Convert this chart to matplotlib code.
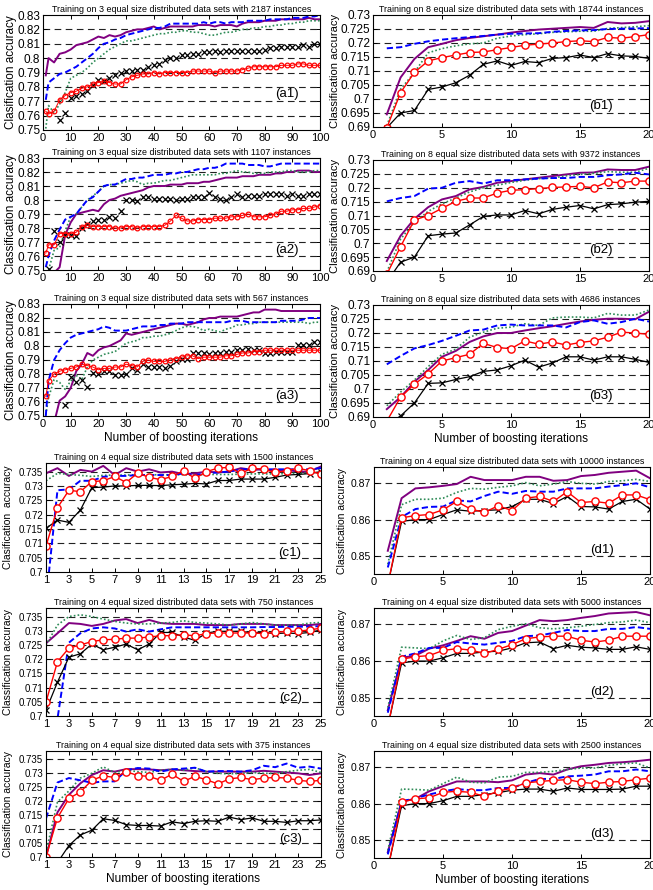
import numpy as np
import matplotlib
matplotlib.use("Agg")
import matplotlib.pyplot as plt

plt.rcParams["font.family"] = ["Liberation Sans", "DejaVu Sans"]

nan = np.nan

# boosting iterations on the x axis
ITER_A = [1] + list(range(2, 101, 2))
ITER_B = list(range(1, 21))
ITER_C = list(range(1, 26))
ITER_D = list(range(1, 21))

# ---- 3 distributed data sets, 100 iterations ----
a1_purple = [0.788, 0.800, 0.797, 0.803, 0.804, 0.806, 0.809, 0.810, 0.811, 0.813, 0.815, 0.814, 0.816,
             0.815, 0.816, 0.818, 0.819, 0.820, 0.820, 0.821, 0.822, 0.820, 0.821, 0.822, 0.822, 0.822,
             0.822, 0.822, 0.823, 0.823, 0.823, 0.822, 0.823, 0.823, 0.823, 0.822, 0.824, 0.825, 0.825,
             0.825, 0.826, 0.826, 0.826, 0.827, 0.827, 0.827, 0.827, 0.827, 0.828, 0.827, 0.827]
a1_blue = [0.771, 0.783, 0.786, 0.789, 0.790, 0.792, 0.794, 0.797, 0.800, 0.803, 0.807, 0.810, 0.811,
           0.813, 0.814, 0.816, 0.817, 0.818, 0.819, 0.820, 0.821, 0.821, 0.822, 0.824, 0.824, 0.824,
           0.824, 0.824, 0.824, 0.825, 0.824, 0.825, 0.825, 0.824, 0.825, 0.825, 0.825, 0.826, 0.826,
           0.826, 0.826, 0.827, 0.827, 0.827, 0.827, 0.828, 0.828, 0.828, 0.829, 0.829, 0.830]
a1_green = [0.751, 0.767, 0.762, 0.768, 0.776, 0.786, 0.788, 0.790, 0.793, 0.797, 0.800, 0.803, 0.806,
            0.808, 0.810, 0.812, 0.812, 0.813, 0.814, 0.815, 0.816, 0.817, 0.817, 0.818, 0.818, 0.819,
            0.819, 0.818, 0.818, 0.817, 0.816, 0.816, 0.817, 0.818, 0.818, 0.819, 0.820, 0.820, 0.821,
            0.821, 0.822, 0.822, 0.823, 0.823, 0.824, 0.824, 0.825, 0.825, 0.826, 0.826, 0.826]
a1_red = [0.763, 0.761, 0.763, 0.771, 0.774, 0.776, 0.777, 0.779, 0.780, 0.782, 0.783, 0.784, 0.783,
          0.782, 0.782, 0.785, 0.787, 0.788, 0.789, 0.789, 0.790, 0.789, 0.790, 0.790, 0.790, 0.790,
          0.790, 0.791, 0.791, 0.791, 0.791, 0.790, 0.791, 0.791, 0.791, 0.791, 0.792, 0.793, 0.794,
          0.794, 0.794, 0.794, 0.794, 0.795, 0.795, 0.795, 0.796, 0.796, 0.795, 0.795, 0.795]
a1_black = [nan, nan, nan, 0.757, 0.762, 0.772, 0.774, 0.775, 0.777, 0.781, 0.785, 0.784, 0.786,
            0.788, 0.790, 0.791, 0.791, 0.792, 0.792, 0.794, 0.795, 0.796, 0.799, 0.800, 0.800, 0.802,
            0.802, 0.803, 0.803, 0.804, 0.804, 0.805, 0.804, 0.805, 0.805, 0.805, 0.805, 0.805, 0.805,
            0.805, 0.806, 0.807, 0.807, 0.808, 0.808, 0.808, 0.808, 0.809, 0.808, 0.810, 0.810]

a2_purple = [0.740, 0.742, 0.748, 0.752, 0.775, 0.784, 0.790, 0.791, 0.792, 0.793, 0.792, 0.797, 0.800,
             0.801, 0.803, 0.804, 0.805, 0.806, 0.807, 0.809, 0.810, 0.810, 0.810, 0.811, 0.811, 0.811,
             0.812, 0.812, 0.812, 0.813, 0.813, 0.814, 0.815, 0.816, 0.816, 0.816, 0.817, 0.817, 0.817,
             0.818, 0.818, 0.818, 0.819, 0.819, 0.820, 0.820, 0.821, 0.821, 0.821, 0.820, 0.820]
a2_blue = [0.752, 0.760, 0.771, 0.779, 0.786, 0.788, 0.790, 0.795, 0.800, 0.802, 0.806, 0.810, 0.811,
           0.811, 0.813, 0.815, 0.815, 0.816, 0.816, 0.817, 0.818, 0.818, 0.818, 0.819, 0.819, 0.820,
           0.820, 0.821, 0.822, 0.822, 0.823, 0.823, 0.824, 0.826, 0.826, 0.826, 0.826, 0.825, 0.825,
           0.825, 0.824, 0.824, 0.825, 0.826, 0.826, 0.826, 0.826, 0.826, 0.826, 0.826, 0.826]
a2_green = [0.745, 0.750, 0.764, 0.766, 0.778, 0.788, 0.790, 0.795, 0.800, 0.803, 0.806, 0.810, 0.811,
            0.811, 0.812, 0.813, 0.814, 0.813, 0.811, 0.812, 0.812, 0.813, 0.814, 0.814, 0.815, 0.816,
            0.817, 0.818, 0.818, 0.818, 0.818, 0.818, 0.819, 0.819, 0.820, 0.821, 0.820, 0.820, 0.819,
            0.819, 0.819, 0.820, 0.820, 0.820, 0.821, 0.821, 0.820, 0.820, 0.820, 0.821, 0.821]
a2_red = [0.762, 0.768, 0.768, 0.776, 0.776, 0.776, 0.777, 0.781, 0.782, 0.781, 0.781, 0.781, 0.781,
          0.780, 0.780, 0.781, 0.781, 0.780, 0.781, 0.781, 0.781, 0.781, 0.782, 0.785, 0.789, 0.787,
          0.785, 0.785, 0.786, 0.786, 0.786, 0.787, 0.787, 0.787, 0.788, 0.788, 0.789, 0.790, 0.788,
          0.788, 0.788, 0.789, 0.790, 0.792, 0.792, 0.793, 0.793, 0.794, 0.794, 0.795, 0.796]
a2_black = [nan, 0.751, 0.778, 0.770, 0.775, 0.775, 0.774, 0.780, 0.783, 0.785, 0.786, 0.786, 0.788,
            0.787, 0.792, 0.800, 0.800, 0.799, 0.802, 0.802, 0.801, 0.801, 0.801, 0.801, 0.800, 0.801,
            0.801, 0.802, 0.802, 0.802, 0.805, 0.802, 0.801, 0.800, 0.802, 0.804, 0.802, 0.803, 0.803,
            0.803, 0.804, 0.804, 0.804, 0.804, 0.803, 0.804, 0.803, 0.803, 0.804, 0.804, 0.804]

a3_purple = [0.735, 0.738, 0.745, 0.761, 0.764, 0.770, 0.782, 0.787, 0.795, 0.793, 0.797, 0.799, 0.800,
             0.802, 0.804, 0.809, 0.808, 0.809, 0.810, 0.811, 0.812, 0.813, 0.814, 0.815, 0.816, 0.816,
             0.815, 0.816, 0.817, 0.819, 0.820, 0.820, 0.821, 0.821, 0.821, 0.821, 0.822, 0.823, 0.824,
             0.824, 0.826, 0.826, 0.826, 0.825, 0.825, 0.825, 0.825, 0.825, 0.825, 0.825, 0.825]
a3_blue = [0.750, 0.775, 0.790, 0.797, 0.802, 0.806, 0.808, 0.809, 0.810, 0.811, 0.812, 0.814, 0.813,
           0.811, 0.811, 0.811, 0.812, 0.813, 0.814, 0.814, 0.814, 0.815, 0.815, 0.816, 0.816, 0.816,
           0.817, 0.817, 0.817, 0.817, 0.817, 0.817, 0.817, 0.817, 0.818, 0.818, 0.818, 0.817, 0.817,
           0.817, 0.817, 0.817, 0.817, 0.818, 0.818, 0.818, 0.818, 0.819, 0.820, 0.820, 0.820]
a3_green = [0.751, 0.763, 0.776, 0.774, 0.769, 0.775, 0.779, 0.776, 0.785, 0.790, 0.792, 0.794, 0.795,
            0.796, 0.799, 0.802, 0.803, 0.804, 0.806, 0.806, 0.807, 0.807, 0.808, 0.809, 0.811, 0.813,
            0.814, 0.814, 0.813, 0.811, 0.812, 0.811, 0.810, 0.812, 0.813, 0.815, 0.815, 0.816, 0.816,
            0.817, 0.817, 0.817, 0.817, 0.817, 0.817, 0.817, 0.817, 0.817, 0.816, 0.817, 0.817]
a3_red = [0.764, 0.775, 0.780, 0.782, 0.783, 0.784, 0.785, 0.787, 0.786, 0.785, 0.783, 0.784, 0.784,
          0.785, 0.785, 0.787, 0.786, 0.785, 0.789, 0.790, 0.789, 0.789, 0.789, 0.790, 0.791, 0.792,
          0.793, 0.793, 0.791, 0.792, 0.792, 0.792, 0.792, 0.793, 0.793, 0.794, 0.795, 0.795, 0.796,
          0.796, 0.797, 0.797, 0.797, 0.797, 0.797, 0.797, 0.797, 0.797, 0.797, 0.797, 0.797]
a3_black = [nan, nan, nan, nan, 0.758, 0.778, 0.774, 0.776, 0.771, 0.781, 0.780, 0.782, 0.782,
            0.779, 0.779, 0.780, 0.784, 0.783, 0.787, 0.785, 0.785, 0.785, 0.784, 0.786, 0.789, 0.791,
            0.791, 0.795, 0.795, 0.795, 0.794, 0.795, 0.795, 0.796, 0.796, 0.797, 0.797, 0.798, 0.797,
            0.797, 0.795, 0.795, 0.796, 0.796, 0.796, 0.796, 0.801, 0.801, 0.801, 0.803, 0.803]

# ---- 8 distributed data sets, 20 iterations ----
b1_purple = [0.6945, 0.7077, 0.7143, 0.7185, 0.7197, 0.7210, 0.7218, 0.7224, 0.7230, 0.7237,
             0.7243, 0.7248, 0.7251, 0.7254, 0.7257, 0.7254, 0.7275, 0.7270, 0.7272, 0.7278]
b1_blue = [0.7181, 0.7185, 0.7197, 0.7206, 0.7212, 0.7217, 0.7221, 0.7225, 0.7230, 0.7233,
           0.7234, 0.7235, 0.7240, 0.7243, 0.7245, 0.7246, 0.7250, 0.7251, 0.7252, 0.7253]
b1_green = [0.6905, 0.7035, 0.7095, 0.7165, 0.7180, 0.7190, 0.7197, 0.7200, 0.7217, 0.7225,
            0.7230, 0.7233, 0.7238, 0.7240, 0.7242, 0.7242, 0.7252, 0.7255, 0.7258, 0.7262]
b1_red = [0.6897, 0.7023, 0.7095, 0.7136, 0.7148, 0.7157, 0.7166, 0.7168, 0.7176, 0.7184,
          0.7192, 0.7196, 0.7200, 0.7205, 0.7208, 0.7205, 0.7220, 0.7217, 0.7223, 0.7230]
b1_black = [0.6897, 0.6950, 0.6959, 0.7034, 0.7043, 0.7058, 0.7085, 0.7124, 0.7136, 0.7120,
            0.7134, 0.7130, 0.7145, 0.7148, 0.7157, 0.7148, 0.7162, 0.7154, 0.7152, 0.7145]

b2_purple = [0.6936, 0.7027, 0.7088, 0.7130, 0.7158, 0.7170, 0.7194, 0.7203, 0.7218, 0.7224,
             0.7230, 0.7236, 0.7242, 0.7248, 0.7254, 0.7255, 0.7266, 0.7264, 0.7264, 0.7276]
b2_blue = [0.7151, 0.7163, 0.7170, 0.7197, 0.7200, 0.7218, 0.7224, 0.7215, 0.7227, 0.7227,
           0.7230, 0.7233, 0.7235, 0.7235, 0.7239, 0.7239, 0.7245, 0.7248, 0.7254, 0.7248]
b2_green = [0.6896, 0.7015, 0.7076, 0.7115, 0.7142, 0.7163, 0.7185, 0.7200, 0.7209, 0.7219,
            0.7227, 0.7233, 0.7235, 0.7243, 0.7248, 0.7252, 0.7258, 0.7256, 0.7256, 0.7270]
b2_red = [0.6888, 0.6988, 0.7084, 0.7100, 0.7126, 0.7151, 0.7163, 0.7163, 0.7181, 0.7191,
          0.7193, 0.7197, 0.7201, 0.7203, 0.7205, 0.7200, 0.7221, 0.7218, 0.7224, 0.7224]
b2_black = [0.6860, 0.6932, 0.6950, 0.7027, 0.7033, 0.7037, 0.7066, 0.7097, 0.7102, 0.7102,
            0.7118, 0.7106, 0.7122, 0.7130, 0.7136, 0.7124, 0.7139, 0.7142, 0.7148, 0.7151]

b3_purple = [0.6928, 0.6971, 0.7026, 0.7068, 0.7115, 0.7136, 0.7168, 0.7188, 0.7200, 0.7200,
             0.7209, 0.7217, 0.7224, 0.7233, 0.7241, 0.7247, 0.7251, 0.7251, 0.7249, 0.7276]
b3_blue = [0.7088, 0.7118, 0.7145, 0.7157, 0.7172, 0.7190, 0.7209, 0.7212, 0.7227, 0.7230,
           0.7227, 0.7227, 0.7227, 0.7220, 0.7239, 0.7245, 0.7233, 0.7239, 0.7251, 0.7241]
b3_green = [0.6940, 0.6989, 0.7032, 0.7080, 0.7124, 0.7142, 0.7185, 0.7203, 0.7217, 0.7221,
            0.7233, 0.7227, 0.7254, 0.7257, 0.7257, 0.7254, 0.7270, 0.7264, 0.7264, 0.7282]
b3_red = [0.6885, 0.6971, 0.7017, 0.7054, 0.7100, 0.7112, 0.7124, 0.7163, 0.7148, 0.7144,
          0.7172, 0.7160, 0.7168, 0.7157, 0.7166, 0.7172, 0.7185, 0.7203, 0.7200, 0.7195]
b3_black = [0.6870, 0.6904, 0.6950, 0.7020, 0.7022, 0.7034, 0.7044, 0.7063, 0.7068, 0.7083,
            0.7103, 0.7078, 0.7093, 0.7115, 0.7115, 0.7103, 0.7115, 0.7115, 0.7106, 0.7095]

# ---- 4 distributed data sets, 25 iterations ----
c1_purple = [0.7344, 0.7362, 0.7335, 0.7356, 0.7350, 0.7370, 0.7338, 0.7362, 0.7350, 0.7358,
             0.7347, 0.7350, 0.7341, 0.7344, 0.7350, 0.7347, 0.7350, 0.7362, 0.7356, 0.7358,
             0.7353, 0.7356, 0.7350, 0.7350, 0.7368]
c1_blue = [0.6900, 0.7285, 0.7288, 0.7318, 0.7318, 0.7332, 0.7335, 0.7335, 0.7338, 0.7338,
           0.7338, 0.7338, 0.7344, 0.7338, 0.7344, 0.7347, 0.7350, 0.7358, 0.7358, 0.7358,
           0.7358, 0.7358, 0.7358, 0.7358, 0.7362]
c1_green = [0.7318, 0.7344, 0.7340, 0.7337, 0.7333, 0.7337, 0.7338, 0.7338, 0.7339, 0.7339,
            0.7339, 0.7339, 0.7339, 0.7338, 0.7340, 0.7340, 0.7340, 0.7341, 0.7342, 0.7342,
            0.7342, 0.7343, 0.7344, 0.7345, 0.7347]
c1_red = [0.7090, 0.7224, 0.7285, 0.7280, 0.7315, 0.7318, 0.7333, 0.7312, 0.7345, 0.7330,
          0.7322, 0.7333, 0.7353, 0.7326, 0.7350, 0.7362, 0.7365, 0.7344, 0.7362, 0.7358,
          0.7347, 0.7353, 0.7362, 0.7353, 0.7341]
c1_black = [0.7152, 0.7181, 0.7173, 0.7216, 0.7294, 0.7296, 0.7300, 0.7300, 0.7302, 0.7302,
            0.7301, 0.7304, 0.7306, 0.7309, 0.7307, 0.7319, 0.7319, 0.7324, 0.7324, 0.7324,
            0.7330, 0.7338, 0.7340, 0.7343, 0.7350]

c2_purple = [0.7256, 0.7291, 0.7327, 0.7324, 0.7317, 0.7324, 0.7336, 0.7341, 0.7327, 0.7338,
             0.7327, 0.7324, 0.7324, 0.7324, 0.7320, 0.7320, 0.7320, 0.7324, 0.7324, 0.7324,
             0.7320, 0.7320, 0.7320, 0.7320, 0.7324]
c2_blue = [0.6950, 0.6990, 0.7258, 0.7291, 0.7308, 0.7312, 0.7308, 0.7297, 0.7305, 0.7297,
           0.7305, 0.7312, 0.7312, 0.7312, 0.7312, 0.7312, 0.7312, 0.7312, 0.7312, 0.7313,
           0.7313, 0.7314, 0.7314, 0.7315, 0.7316]
c2_green = [0.7250, 0.7320, 0.7350, 0.7356, 0.7350, 0.7341, 0.7333, 0.7327, 0.7324, 0.7324,
            0.7327, 0.7329, 0.7335, 0.7329, 0.7327, 0.7324, 0.7320, 0.7324, 0.7329, 0.7324,
            0.7320, 0.7320, 0.7320, 0.7327, 0.7329]
c2_red = [0.7049, 0.7191, 0.7239, 0.7250, 0.7262, 0.7268, 0.7270, 0.7274, 0.7274, 0.7278,
          0.7282, 0.7283, 0.7286, 0.7282, 0.7290, 0.7292, 0.7292, 0.7292, 0.7292, 0.7290,
          0.7294, 0.7298, 0.7298, 0.7303, 0.7309]
c2_black = [0.7020, 0.7119, 0.7207, 0.7219, 0.7253, 0.7233, 0.7242, 0.7253, 0.7233, 0.7253,
            0.7294, 0.7294, 0.7278, 0.7266, 0.7292, 0.7298, 0.7298, 0.7298, 0.7292, 0.7294,
            0.7290, 0.7292, 0.7290, 0.7294, 0.7303]

c3_purple = [0.7000, 0.7160, 0.7223, 0.7264, 0.7294, 0.7311, 0.7306, 0.7315, 0.7315, 0.7314,
             0.7311, 0.7314, 0.7311, 0.7308, 0.7306, 0.7306, 0.7306, 0.7306, 0.7306, 0.7309,
             0.7306, 0.7303, 0.7300, 0.7294, 0.7300]
c3_blue = [0.7138, 0.7267, 0.7283, 0.7275, 0.7266, 0.7271, 0.7271, 0.7311, 0.7319, 0.7317,
           0.7306, 0.7314, 0.7317, 0.7320, 0.7306, 0.7308, 0.7308, 0.7306, 0.7311, 0.7327,
           0.7322, 0.7335, 0.7320, 0.7324, 0.7317]
c3_green = [0.7017, 0.7197, 0.7237, 0.7283, 0.7300, 0.7323, 0.7303, 0.7311, 0.7306, 0.7303,
            0.7311, 0.7314, 0.7311, 0.7320, 0.7306, 0.7300, 0.7298, 0.7300, 0.7303, 0.7300,
            0.7300, 0.7306, 0.7311, 0.7314, 0.7303]
c3_red = [0.7000, 0.7140, 0.7210, 0.7233, 0.7275, 0.7291, 0.7285, 0.7306, 0.7292, 0.7289,
          0.7275, 0.7297, 0.7271, 0.7289, 0.7277, 0.7262, 0.7280, 0.7285, 0.7277, 0.7283,
          0.7285, 0.7283, 0.7275, 0.7271, 0.7275]
c3_black = [0.6900, 0.6980, 0.7041, 0.7079, 0.7096, 0.7137, 0.7131, 0.7116, 0.7113, 0.7113,
            0.7111, 0.7126, 0.7120, 0.7128, 0.7130, 0.7128, 0.7143, 0.7134, 0.7140, 0.7128,
            0.7128, 0.7124, 0.7130, 0.7130, 0.7133]

# ---- 4 distributed data sets, 20 iterations (larger sets) ----
d1_purple = [0.8514, 0.8659, 0.8686, 0.8689, 0.8693, 0.8698, 0.8718, 0.8709, 0.8709, 0.8709,
             0.8718, 0.8718, 0.8707, 0.8709, 0.8720, 0.8723, 0.8729, 0.8732, 0.8735, 0.8714]
d1_blue = [0.8468, 0.8607, 0.8629, 0.8635, 0.8636, 0.8653, 0.8650, 0.8665, 0.8677, 0.8671,
           0.8679, 0.8677, 0.8677, 0.8686, 0.8686, 0.8686, 0.8691, 0.8695, 0.8700, 0.8689]
d1_green = [0.8477, 0.8641, 0.8656, 0.8656, 0.8659, 0.8675, 0.8686, 0.8684, 0.8689, 0.8693,
            0.8702, 0.8693, 0.8698, 0.8705, 0.8700, 0.8698, 0.8705, 0.8707, 0.8711, 0.8705]
d1_red = [0.8420, 0.8605, 0.8611, 0.8614, 0.8627, 0.8650, 0.8629, 0.8620, 0.8638, 0.8625,
          0.8659, 0.8664, 0.8650, 0.8677, 0.8647, 0.8650, 0.8645, 0.8668, 0.8668, 0.8655]
d1_black = [0.8420, 0.8595, 0.8600, 0.8600, 0.8614, 0.8627, 0.8623, 0.8625, 0.8627, 0.8636,
            0.8656, 0.8656, 0.8644, 0.8664, 0.8636, 0.8635, 0.8629, 0.8650, 0.8656, 0.8629]

d2_purple = [0.8466, 0.8609, 0.8615, 0.8634, 0.8643, 0.8655, 0.8668, 0.8661, 0.8677, 0.8682,
             0.8697, 0.8712, 0.8709, 0.8712, 0.8718, 0.8723, 0.8730, 0.8732, 0.8734, 0.8725]
d2_blue = [0.8459, 0.8612, 0.8621, 0.8636, 0.8636, 0.8652, 0.8648, 0.8645, 0.8650, 0.8655,
           0.8668, 0.8670, 0.8677, 0.8685, 0.8682, 0.8682, 0.8688, 0.8688, 0.8693, 0.8688]
d2_green = [0.8473, 0.8638, 0.8636, 0.8634, 0.8655, 0.8670, 0.8659, 0.8664, 0.8686, 0.8695,
            0.8702, 0.8691, 0.8688, 0.8691, 0.8695, 0.8700, 0.8705, 0.8707, 0.8712, 0.8705]
d2_red = [0.8420, 0.8605, 0.8612, 0.8615, 0.8629, 0.8634, 0.8630, 0.8621, 0.8632, 0.8645,
          0.8661, 0.8666, 0.8668, 0.8668, 0.8657, 0.8652, 0.8657, 0.8668, 0.8668, 0.8668]
d2_black = [0.8420, 0.8595, 0.8600, 0.8600, 0.8609, 0.8621, 0.8621, 0.8625, 0.8627, 0.8636,
            0.8650, 0.8652, 0.8634, 0.8643, 0.8638, 0.8636, 0.8632, 0.8632, 0.8639, 0.8632]

d3_purple = [0.8466, 0.8606, 0.8613, 0.8634, 0.8648, 0.8661, 0.8661, 0.8661, 0.8659, 0.8664,
             0.8680, 0.8684, 0.8680, 0.8694, 0.8703, 0.8707, 0.8712, 0.8714, 0.8717, 0.8721]
d3_blue = [0.8460, 0.8606, 0.8615, 0.8625, 0.8634, 0.8640, 0.8637, 0.8637, 0.8643, 0.8643,
           0.8657, 0.8668, 0.8668, 0.8675, 0.8677, 0.8680, 0.8689, 0.8689, 0.8694, 0.8689]
d3_green = [0.8471, 0.8640, 0.8639, 0.8637, 0.8655, 0.8673, 0.8659, 0.8657, 0.8673, 0.8675,
            0.8686, 0.8686, 0.8689, 0.8694, 0.8698, 0.8698, 0.8705, 0.8710, 0.8712, 0.8698]
d3_red = [0.8420, 0.8604, 0.8613, 0.8616, 0.8631, 0.8634, 0.8631, 0.8620, 0.8634, 0.8643,
          0.8657, 0.8661, 0.8664, 0.8666, 0.8659, 0.8655, 0.8659, 0.8661, 0.8666, 0.8670]
d3_black = [0.8420, 0.8594, 0.8600, 0.8600, 0.8608, 0.8620, 0.8620, 0.8625, 0.8630, 0.8637,
            0.8640, 0.8640, 0.8634, 0.8643, 0.8639, 0.8639, 0.8639, 0.8640, 0.8648, 0.8648]

TITLE_3 = "Training on 3 equal size distributed data sets with {} instances"
TITLE_8 = "Training on 8 equal size distributed data sets with {} instances"
TITLE_4 = "Training on 4 equal size distributed data sets with {} instances"
TITLE_4B = "Training on 4 equal sized distributed data sets with {} instances"
XLABEL = "Number of boosting iterations"

W, H = 653, 890
fig = plt.figure(figsize=(W / 100, H / 100), dpi=100)


def rect(l, r, t, b):
    return [l / W, 1 - b / H, (r - l) / W, (b - t) / H]


def draw(ax, x, purple, blue, green, red, black, dense=False):
    ax.plot(x, purple, color="#800080", lw=1.4)
    ax.plot(x, green, color="#2e8b57", lw=1.2, ls=(0, (1, 1.3)))
    ax.plot(x, blue, color="#0000ff", lw=1.4, ls=(0, (3.2, 1.6)))
    if dense:
        ax.plot(x, black, ls="none", marker="x", ms=3.8, mew=0.9, color="k")
        ax.plot(x, red, color="#ff0000", lw=0.7, marker="o", ms=3.4, mfc="none", mew=0.9)
    else:
        ax.plot(x, black, color="k", lw=0.9, marker="x", ms=5, mew=0.9)
        ax.plot(x, red, color="#ff0000", lw=1.0, marker="o", ms=5.2, mfc="white", mew=1.0)


def style(ax, title, ylabel, tag, tagxy, xlim, xticks, ylim, yticks, yfs, xfs, tfs,
          lfs, ylab_x, xlabel=None):
    ax.set_xlim(*xlim)
    ax.set_ylim(*ylim)
    ax.set_xticks(xticks)
    ax.set_yticks(yticks)
    ax.set_yticklabels(["%g" % round(v, 4) for v in yticks], fontsize=yfs)
    ax.set_xticklabels(["%g" % v for v in xticks], fontsize=xfs)
    ax.tick_params(direction="in", length=3, width=0.7, top=True, right=True, pad=2)
    for v in yticks:
        if ylim[0] < v < ylim[1]:
            ax.axhline(v, color="#222222", lw=0.8, ls=(0, (6, 4)), zorder=0.5)
    for s in ax.spines.values():
        s.set_linewidth(0.8)
    ax.set_title(title, fontsize=tfs, pad=2.5)
    ax.set_ylabel(ylabel, fontsize=lfs)
    ax.yaxis.set_label_coords(ylab_x, 0.5)
    ax.text(tagxy[0], tagxy[1], tag, fontsize=9.5, ha="center", va="center")
    if xlabel:
        ax.set_xlabel(xlabel, fontsize=8.5, labelpad=2)


# left column, top block
a_rows = [
    ((15, 130), "2187", "Clasification accuracy", "(a1)", 0.775, (a1_purple, a1_blue, a1_green, a1_red, a1_black)),
    ((158, 270), "1107", "Classification accuracy", "(a2)", 0.764, (a2_purple, a2_blue, a2_green, a2_red, a2_black)),
    ((304, 416), "567", "Classification accuracy", "(a3)", 0.764, (a3_purple, a3_blue, a3_green, a3_red, a3_black)),
]
for i, ((t, b), n, ylab, tag, ty, ser) in enumerate(a_rows):
    ax = fig.add_axes(rect(43, 320, t, b))
    draw(ax, ITER_A, *ser, dense=True)
    style(ax, TITLE_3.format(n), ylab, tag, (88, ty), (0, 100), list(range(0, 101, 10)),
          (0.75, 0.83), np.arange(0.75, 0.8301, 0.01), 8.5, 8, 6.4, 8.5, -0.095,
          XLABEL if i == 2 else None)

# right column, top block
b_rows = [
    ((15, 127), "18744", "(b1)", (b1_purple, b1_blue, b1_green, b1_red, b1_black)),
    ((160, 271), "9372", "(b2)", (b2_purple, b2_blue, b2_green, b2_red, b2_black)),
    ((305, 417), "4686", "(b3)", (b3_purple, b3_blue, b3_green, b3_red, b3_black)),
]
for i, ((t, b), n, tag, ser) in enumerate(b_rows):
    ax = fig.add_axes(rect(373, 649, t, b))
    draw(ax, ITER_B, *ser)
    style(ax, TITLE_8.format(n), "Classification accuracy", tag, (16.5, 0.6975), (0, 20),
          [0, 5, 10, 15, 20], (0.69, 0.73), np.arange(0.69, 0.73001, 0.005), 8.5, 8, 6.4, 8,
          -0.118, XLABEL if i == 2 else None)

# left column, bottom block
c_rows = [
    ((463, 572), TITLE_4.format("1500"), "Clasification  accuracy", "(c1)", (c1_purple, c1_blue, c1_green, c1_red, c1_black)),
    ((608, 716), TITLE_4B.format("750"), "Classification accuracy", "(c2)", (c2_purple, c2_blue, c2_green, c2_red, c2_black)),
    ((751, 857), TITLE_4.format("375"), "Classification accuracy", "(c3)", (c3_purple, c3_blue, c3_green, c3_red, c3_black)),
]
for i, ((t, b), title, ylab, tag, ser) in enumerate(c_rows):
    ax = fig.add_axes(rect(46, 321, t, b))
    draw(ax, ITER_C, *ser)
    style(ax, title, ylab, tag, (22.3, 0.7065), (1, 25), list(range(1, 26, 2)),
          (0.7, 0.738), np.arange(0.7, 0.7351, 0.005), 7, 8, 6.4, 7.5, -0.12,
          XLABEL if i == 2 else None)

# right column, bottom block
d_rows = [
    ((467, 574), "10000", "(d1)", (d1_purple, d1_blue, d1_green, d1_red, d1_black)),
    ((608, 716), "5000", "(d2)", (d2_purple, d2_blue, d2_green, d2_red, d2_black)),
    ((751, 858), "2500", "(d3)", (d3_purple, d3_blue, d3_green, d3_red, d3_black)),
]
for i, ((t, b), n, tag, ser) in enumerate(d_rows):
    ax = fig.add_axes(rect(374, 650, t, b))
    draw(ax, ITER_D, *ser)
    style(ax, TITLE_4.format(n), "Classification accuracy", tag, (16.5, 0.8515), (0, 20),
          [0, 5, 10, 15, 20], (0.845, 0.8745), [0.85, 0.86, 0.87], 7.5, 8, 6.4, 7.5, -0.098,
          XLABEL if i == 2 else None)

fig.savefig("out.png", dpi=100)
